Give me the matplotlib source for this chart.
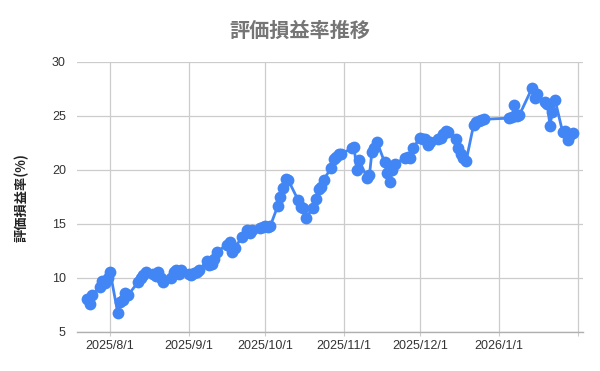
import matplotlib
matplotlib.use("Agg")
import matplotlib.pyplot as plt
import matplotlib.dates as mdates
import numpy as np

plt.rcParams['font.family'] = ['Liberation Sans', 'Noto Sans CJK JP', 'DejaVu Sans']

dates = [
    "2025-07-23", "2025-07-24", "2025-07-25", "2025-07-28", "2025-07-29", "2025-07-30", "2025-07-31",
    "2025-08-01", "2025-08-04", "2025-08-05", "2025-08-06", "2025-08-07", "2025-08-08",
    "2025-08-12", "2025-08-13", "2025-08-14", "2025-08-15", "2025-08-18", "2025-08-19", "2025-08-20",
    "2025-08-21", "2025-08-22", "2025-08-25", "2025-08-26", "2025-08-27", "2025-08-28", "2025-08-29",
    "2025-09-01", "2025-09-02", "2025-09-03", "2025-09-04", "2025-09-05", "2025-09-08", "2025-09-09",
    "2025-09-10", "2025-09-11", "2025-09-12", "2025-09-16", "2025-09-17", "2025-09-18", "2025-09-19",
    "2025-09-22", "2025-09-24", "2025-09-25", "2025-09-26", "2025-09-29", "2025-09-30",
    "2025-10-01", "2025-10-02", "2025-10-03", "2025-10-06", "2025-10-07", "2025-10-08", "2025-10-09",
    "2025-10-10", "2025-10-14", "2025-10-15", "2025-10-16", "2025-10-17", "2025-10-20", "2025-10-21",
    "2025-10-22", "2025-10-23", "2025-10-24", "2025-10-27", "2025-10-28", "2025-10-29", "2025-10-30",
    "2025-10-31", "2025-11-04", "2025-11-05", "2025-11-06", "2025-11-07", "2025-11-10", "2025-11-11",
    "2025-11-12", "2025-11-13", "2025-11-14", "2025-11-17", "2025-11-18", "2025-11-19", "2025-11-20",
    "2025-11-21", "2025-11-25", "2025-11-26", "2025-11-27", "2025-11-28", "2025-12-01", "2025-12-02",
    "2025-12-03", "2025-12-04", "2025-12-05", "2025-12-08", "2025-12-09", "2025-12-10", "2025-12-11",
    "2025-12-12", "2025-12-15", "2025-12-16", "2025-12-17", "2025-12-18", "2025-12-19", "2025-12-22",
    "2025-12-23", "2025-12-24", "2025-12-25", "2025-12-26", "2026-01-05", "2026-01-06", "2026-01-07",
    "2026-01-08", "2026-01-09", "2026-01-14", "2026-01-15", "2026-01-16", "2026-01-19", "2026-01-20",
    "2026-01-21", "2026-01-22", "2026-01-23", "2026-01-26", "2026-01-27", "2026-01-28", "2026-01-29",
    "2026-01-30",
]
values = [
    8.1, 7.6, 8.4, 9.2, 9.7, 9.5, 10.0,
    10.6, 6.8, 7.8, 8.0, 8.6, 8.4,
    9.6, 10.0, 10.3, 10.6, 10.4, 10.2, 10.6,
    10.0, 9.6, 10.0, 10.6, 10.7, 10.4, 10.7,
    10.4, 10.3, 10.5, 10.6, 10.7, 11.6, 11.2,
    11.3, 11.8, 12.4, 13.1, 13.3, 12.4, 12.8,
    13.8, 14.4, 14.2, 14.4, 14.6, 14.7,
    14.8, 14.7, 14.8, 16.7, 17.5, 18.3, 19.2,
    19.1, 17.2, 16.6, 16.5, 15.6, 16.5, 17.3,
    18.2, 18.4, 19.1, 20.2, 21.0, 21.2, 21.5,
    21.5, 22.0, 22.1, 20.0, 20.9, 19.3, 19.5,
    21.7, 22.0, 22.6, 20.7, 19.7, 18.9, 20.0,
    20.6, 21.1, 21.2, 21.1, 22.0, 23.0, 22.9,
    22.9, 22.3, 22.6, 22.9, 23.0, 23.3, 23.6,
    23.5, 22.9, 22.0, 21.5, 21.1, 20.8, 24.2,
    24.4, 24.5, 24.6, 24.7, 24.8, 24.9, 26.0,
    25.0, 25.1, 27.6, 26.7, 27.0, 26.3, 26.1,
    24.1, 25.4, 26.5, 23.5, 23.6, 22.8, 23.2,
    23.4,
]
tick_dates = ["2025-08-01", "2025-09-01", "2025-10-01", "2025-11-01", "2025-12-01", "2026-01-01", "2026-02-01"]
tick_labels = ["2025/8/1", "2025/9/1", "2025/10/1", "2025/11/1", "2025/12/1", "2026/1/1", ""]
y_ticks = [5, 10, 15, 20, 25, 30]

title = "評価損益率推移"
ylabel = "評価損益率(%)"

x = np.array(dates, dtype="datetime64[D]")
xt = np.array(tick_dates, dtype="datetime64[D]")

fig = plt.figure(figsize=(6.0, 3.71), dpi=100)
ax = fig.add_axes([77/600, 39/371, 506/600, 270/371])

ax.plot(x, values, color="#4285F4", lw=2, marker="o", markersize=8.5,
        markeredgewidth=0, zorder=3, clip_on=False)

ax.set_ylim(5, 30)
ax.set_yticks(y_ticks)
ax.set_xlim(np.datetime64("2025-07-19"), np.datetime64("2026-02-03"))
ax.set_xticks(xt)
ax.set_xticklabels(tick_labels)

ax.grid(True, color="#cccccc", lw=0.9)
ax.set_axisbelow(True)
for s in ["top", "right", "left"]:
    ax.spines[s].set_visible(False)
ax.spines["bottom"].set_color("#b0b0b0")
ax.spines["bottom"].set_linewidth(1)

ax.tick_params(axis="y", length=0, pad=8, labelsize=9, labelcolor="#333333")
ax.tick_params(axis="x", length=3, color="#cccccc", pad=3, labelsize=9, labelcolor="#333333")

fig.text(0.5, 1 - 30/371, title, ha="center", va="center", fontsize=14.5,
         fontweight="bold", color="#757575", family=["Noto Sans CJK JP", "DejaVu Sans"])
fig.text(22/600, 1 - 198/371, ylabel, ha="center", va="center", rotation=90, fontsize=9.5,
         fontweight="bold", color="#222222", family=["Noto Sans CJK JP", "DejaVu Sans"])

fig.savefig("out.png", dpi=100)
